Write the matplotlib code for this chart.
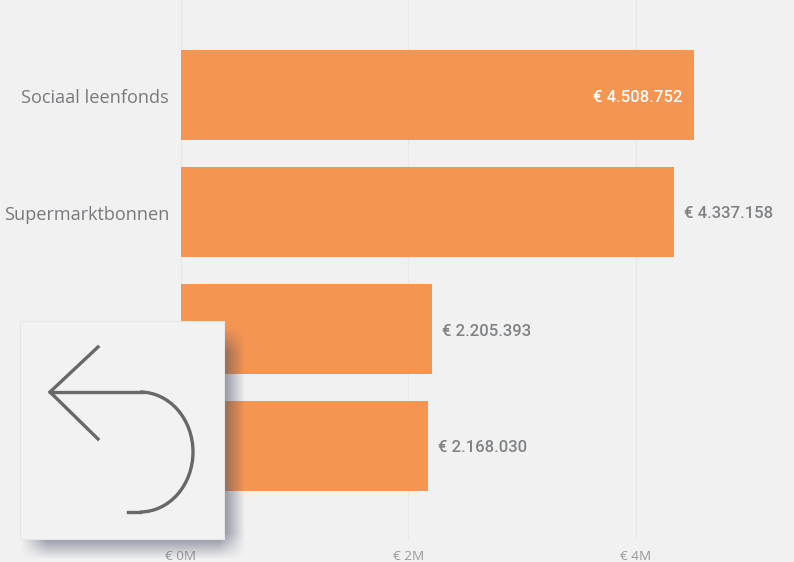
import numpy as np
import matplotlib
matplotlib.use('Agg')
import matplotlib.pyplot as plt
from matplotlib.patches import Rectangle, Arc
from matplotlib.transforms import ScaledTranslation

categories = ['Sociaal leenfonds', 'Supermarktbonnen', '', '']
values = [4508752, 4337158, 2205393, 2168030]
value_labels = ['€ 4.508.752', '€ 4.337.158', '€ 2.205.393', '€ 2.168.030']
xticks = [0, 2000000, 4000000]
xtick_labels = ['€ 0M', '€ 2M', '€ 4M']

W, H = 794, 562
BG = '#f1f1f1'
ORANGE = '#f59552'
GREY = '#7f8285'

fig = plt.figure(figsize=(W / 100, H / 100), dpi=100, facecolor=BG)

# main chart, placed in pixels
px_per_unit = 113.7e-6
left, bottom_px = 181, 540
ax = fig.add_axes([left / W, 1 - bottom_px / H, (W - left) / W, bottom_px / H])
ax.set_facecolor('none')
ax.set_xlim(0, (W - left) / px_per_unit)
ax.set_ylim((bottom_px - 95) / 117, -95 / 117)

ypos = list(range(len(values)))
ax.barh(ypos, values, height=90 / 117, color=ORANGE, zorder=2)
ax.set_xticks(xticks)
ax.set_xticklabels(xtick_labels, fontsize=9.7, color='#9a9a9a', family='Open Sans')
ax.set_yticks(ypos)
ax.set_yticklabels(categories, fontsize=13.1, color='#77797c', family='Open Sans')
ax.tick_params(axis='both', length=0)
ax.tick_params(axis='y', pad=8.5)
ax.tick_params(axis='x', pad=7)
ax.grid(axis='x', color='#e8e8e8', lw=1, zorder=1)
for s in ax.spines.values():
    s.set_visible(False)
for lab in ax.get_yticklabels():
    lab.set_transform(lab.get_transform() + ScaledTranslation(0, -0.7 / 72, fig.dpi_scale_trans))

for i, v in enumerate(values):
    if i == 0:
        ax.annotate(value_labels[i], (v, i), xytext=(-11, -2), textcoords='offset pixels',
                    ha='right', va='center', color='white', fontsize=12, family='Roboto',
                    fontweight='medium', zorder=3)
    else:
        ax.annotate(value_labels[i], (v, i), xytext=(10, -2), textcoords='offset pixels',
                    ha='left', va='center', color=GREY, fontsize=12, family='Roboto',
                    fontweight='medium', zorder=3)

# back button card on top, in pixel coordinates
ov = fig.add_axes([0, 0, 1, 1], zorder=5)
ov.set_xlim(0, W)
ov.set_ylim(H, 0)
ov.axis('off')
ov.patch.set_alpha(0)

# soft shadow, blurred edges built per pixel
xx, yy = np.meshgrid(np.arange(W) + 0.5, np.arange(H) + 0.5)
edge = lambda d: np.clip(d / 26 + 0.5, 0, 1)
shade = edge(xx - 34) * edge(232 - xx) * edge(yy - 340) * edge(546 - yy)
shadow = np.zeros((H, W, 4))
shadow[..., :3] = matplotlib.colors.to_rgb('#3f4660')
shadow[..., 3] = 0.66 * shade
ov.imshow(shadow, extent=(0, W, H, 0), aspect='auto', interpolation='bilinear', zorder=1)
ov.set_xlim(0, W)
ov.set_ylim(H, 0)
ov.add_patch(Rectangle((20, 321), 204, 218, facecolor='#f2f2f2', edgecolor='#e6e6e6', lw=0.8, zorder=2))

ic = '#686868'
lw = 2.4
ov.plot([98, 50, 98], [347, 392, 439], color=ic, lw=lw, solid_joinstyle='miter', zorder=3)
ov.plot([50, 142], [392, 392], color=ic, lw=lw, zorder=3)
ov.add_patch(Arc((140, 452), 106, 120, theta1=-90, theta2=90, color=ic, lw=lw, zorder=3))
ov.plot([128, 140], [512, 512], color=ic, lw=lw, zorder=3)

fig.savefig('out.png', dpi=100, facecolor=BG)
